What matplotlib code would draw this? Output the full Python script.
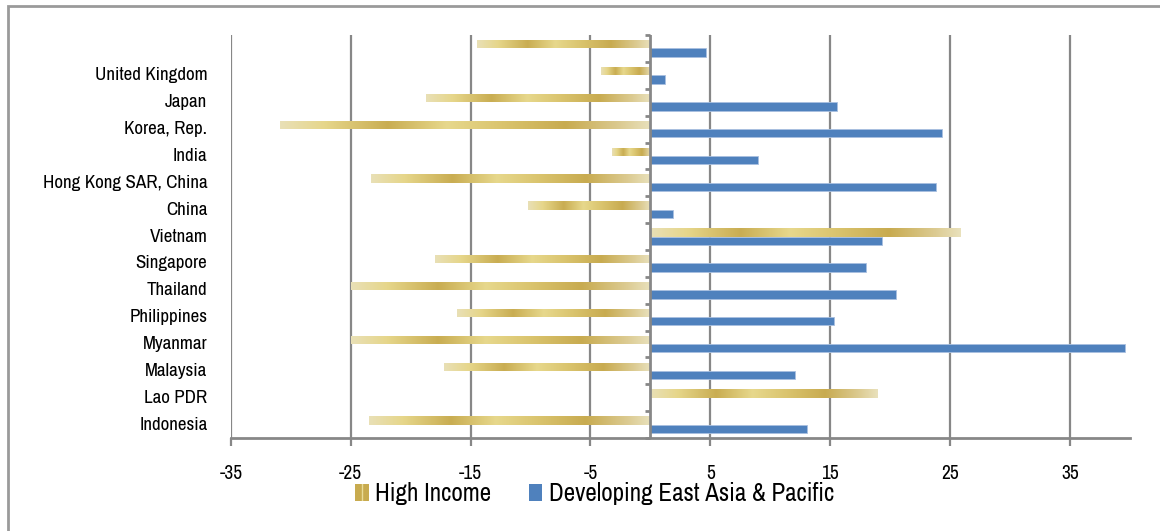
import numpy as np
import matplotlib
matplotlib.use('Agg')
import matplotlib.pyplot as plt
from matplotlib.colors import LinearSegmentedColormap
from matplotlib.patches import Patch, Rectangle

plt.rcParams['font.family'] = ['Archivo Narrow', 'Liberation Sans', 'DejaVu Sans']

# data, bottom to top
countries = ['Indonesia', 'Lao PDR', 'Malaysia', 'Myanmar', 'Philippines', 'Thailand',
             'Singapore', 'Vietnam', 'China', 'Hong Kong SAR, China', 'India',
             'Korea, Rep.', 'Japan', 'United Kingdom', '']
high_income = [-23.5, 19.0, -17.2, -25.0, -16.1, -25.0, -18.0, 25.9, -10.2, -23.3,
               -3.2, -30.9, -18.7, -4.1, -14.5]
developing = [13.1, 0.0, 12.1, 39.6, 15.3, 20.5, 18.0, 19.3, 1.9, 23.8,
              9.0, 24.3, 15.6, 1.2, 4.6]
xticks = [-35, -25, -15, -5, 5, 15, 25, 35]

gold = LinearSegmentedColormap.from_list('gold', [
    (0.0, '#e9e0b6'), (0.12, '#e6d68a'), (0.29, '#c9ad52'), (0.45, '#e7d88c'),
    (0.6, '#dac46e'), (0.77, '#c8ab50'), (0.92, '#dccb92'), (1.0, '#e9e1bc')])
blue = '#4f81bd'
grey = '#878787'

fig = plt.figure(figsize=(11.6, 5.31), dpi=100)
ax = fig.add_axes([0.199, 0.175, 0.775, 0.759])

y = np.arange(len(countries))
h = 0.31
gbars = ax.barh(y + h / 2, high_income, height=h, color='#d6bf6a', zorder=3)
ax.barh(y - h / 2, developing, height=h, color=blue, edgecolor='#a9c0e0',
        linewidth=0.6, zorder=3)

grad = np.linspace(0, 1, 256).reshape(1, -1)
for b in gbars:
    x0, x1 = sorted([b.get_x(), b.get_x() + b.get_width()])
    if x1 - x0 <= 0:
        continue
    y0 = b.get_y()
    im = ax.imshow(grad, cmap=gold, aspect='auto', extent=[x0, x1, y0, y0 + h],
                   zorder=4, interpolation='bilinear')
    im.set_clip_path(b)

ax.set_xlim(-35, 40)
ax.set_ylim(-0.5, len(countries) - 0.5)

for v in xticks:
    ax.axvline(v, color=grey, lw=1.6, zorder=1)

for s in ['top', 'right', 'left']:
    ax.spines[s].set_visible(False)
ax.spines['bottom'].set_color(grey)
ax.spines['bottom'].set_linewidth(2)

# category axis at zero
ax.axvline(0, color=grey, lw=2, zorder=5)
ax.set_yticks([])
for yb in np.arange(-0.5, len(countries), 1.0):
    ax.plot([-0.45, 0], [yb, yb], color=grey, lw=2, zorder=5, clip_on=False,
            solid_capstyle='butt')

trans = ax.get_yaxis_transform()
for yi, name in zip(y, countries):
    ax.text(-0.026, yi, name, transform=trans, ha='right', va='center',
            fontsize=13.7, color='#000000')

ax.set_xticks(xticks)
ax.set_xticklabels([str(v) for v in xticks])
ax.tick_params(axis='x', direction='out', length=6, width=1.6, color=grey,
               pad=13, labelsize=14)

handles = [Patch(facecolor='#c8ab4f', edgecolor='#eadc98', hatch='||', lw=0),
           Patch(facecolor=blue, lw=0)]
fig.legend(handles, ['High Income', 'Developing East Asia & Pacific'],
           loc='center', bbox_to_anchor=(0.5125, 0.07), ncol=2, frameon=False,
           fontsize=18, handlelength=0.55, handleheight=0.7, handletextpad=0.25,
           columnspacing=1.5)

# chart border (left and top edges visible)
fig.add_artist(Rectangle((0.0065, -0.1), 1.2, 1.089, transform=fig.transFigure,
                         fill=False, edgecolor='#9a9a9a', lw=2))

fig.savefig('out.png', dpi=100, facecolor='white')
